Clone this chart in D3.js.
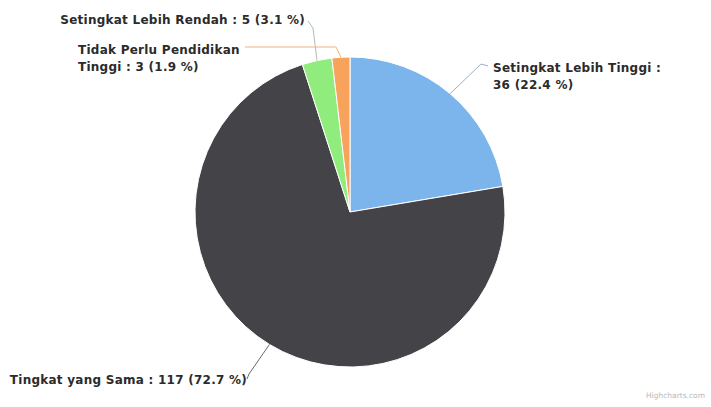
<!DOCTYPE html>
<html><head><meta charset="utf-8">
<script src="https://cdn.jsdelivr.net/npm/d3@7/dist/d3.min.js"></script>
<style>body{margin:0;background:#fff}svg{display:block}</style>
</head><body>
<svg id="c" width="711" height="407"></svg>
<script>
const categories = ["Setingkat Lebih Tinggi", "Tingkat yang Sama", "Setingkat Lebih Rendah", "Tidak Perlu Pendidikan Tinggi"];
const values = [36, 117, 5, 3];
const percentLabels = ["22.4", "72.7", "3.1", "1.9"];
const colors = ["#7cb5ec", "#434348", "#90ed7d", "#f7a35c"];
const connectorColors = ["#9aaec4", "#6a6a70", "#b0bcb0", "#f2b27a"];

// label layout: text lines, anchor, text position, connector bend + end
const labelLayout = [
  {lines:["Setingkat Lebih Tinggi :", "36 (22.4 %)"], anchor:"start", x:493, y:72, bend:[481,64], end:[488,66]},
  {lines:["Tingkat yang Sama : 117 (72.7 %)"], anchor:"end", x:247, y:384, bend:[249,374], end:[247,379]},
  {lines:["Setingkat Lebih Rendah : 5 (3.1 %)"], anchor:"end", x:305, y:24, bend:[313,28], end:[308,21]},
  {lines:["Tidak Perlu Pendidikan", "Tinggi : 3 (1.9 %)"], anchor:"start", x:78, y:54, bend:[336,47], end:[245,47]}
];

const svg = d3.select("#c");
const cx = 350, cy = 212, r = 155;
const g = svg.append("g").attr("transform", `translate(${cx},${cy})`);
const pie = d3.pie().sort(null).value(d => d)(values);
const arc = d3.arc().innerRadius(0).outerRadius(r);

g.selectAll("path.s").data(pie).enter().append("path")
  .attr("d", arc).attr("fill", (d,i) => colors[i])
  .attr("stroke", "#fff").attr("stroke-width", 1).attr("stroke-linejoin","round");

pie.forEach((d, i) => {
  const a = (d.startAngle + d.endAngle) / 2;
  const ex = cx + r * Math.sin(a), ey = cy - r * Math.cos(a);
  const L = labelLayout[i];
  svg.append("path")
    .attr("d", `M${ex},${ey}L${L.bend[0]},${L.bend[1]}L${L.end[0]},${L.end[1]}`)
    .attr("fill", "none").attr("stroke", connectorColors[i]).attr("stroke-width", 1);
  const t = svg.append("text").attr("x", L.x).attr("y", L.y)
    .attr("text-anchor", L.anchor)
    .attr("font-family", "DejaVu Sans, Verdana, sans-serif")
    .attr("font-size", 12).attr("letter-spacing", 0.25).attr("font-weight", "bold").attr("fill", "#2b2b2b");
  L.lines.forEach((ln, k) => t.append("tspan").attr("x", L.x).attr("dy", k === 0 ? 0 : 17).text(ln));
});

svg.append("text").attr("x", 705).attr("y", 398).attr("text-anchor", "end")
  .attr("font-family", "DejaVu Sans, Verdana, sans-serif").attr("font-size", 7.5)
  .attr("fill", "#b8b8b8").text("Highcharts.com");
</script>
</body></html>
